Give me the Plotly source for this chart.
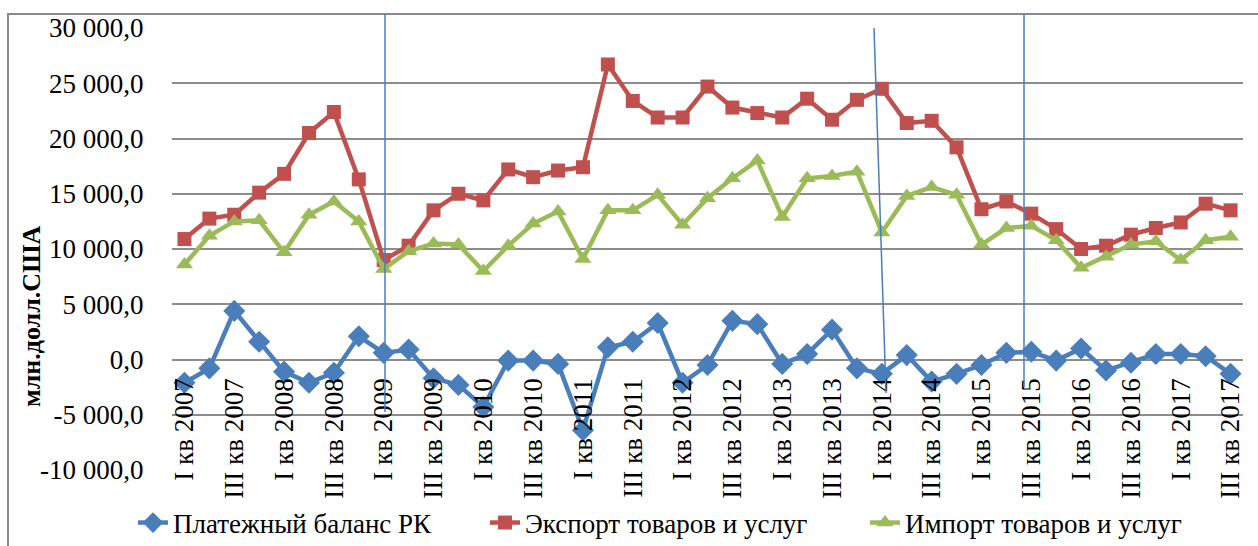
import plotly.graph_objects as go

# ---- data ----
roman = ["I", "II", "III", "IV"]
quarters = [f"{r} кв {y}" for y in range(2007, 2018) for r in roman][:43]

balance = [-2100, -800, 4400, 1600, -1100, -2100, -1200, 2100, 600,
           900, -1700, -2300, -4300, -100, -100, -400, -6400,
           1100, 1600, 3300, -2100, -500, 3500, 3200, -400, 500,
           2700, -800, -1300, 400, -2000, -1300, -500, 600, 700,
           -100, 1000, -1000, -300, 500, 500, 300, -1300]

export = [10900, 12750, 13100, 15100, 16800, 20500, 22400, 16300, 9000,
          10300, 13500, 15000, 14400, 17200, 16500, 17100, 17400,
          26700, 23400, 21900, 21900, 24700, 22800, 22300, 21900, 23600,
          21700, 23500, 24500, 21400, 21600, 19200, 13600, 14300, 13200,
          11800, 10000, 10300, 11300, 11900, 12400, 14100, 13500]

imports = [8600, 11200, 12500, 12600, 9700, 13100, 14300, 12500, 8200,
           9800, 10500, 10400, 8000, 10300, 12300, 13400, 9100,
           13500, 13500, 14900, 12200, 14600, 16400, 18000, 12900, 16400,
           16600, 17000, 11500, 14800, 15600, 14900, 10400, 11900, 12100,
           10800, 8300, 9300, 10400, 10700, 9000, 10800, 11100]

x_ticklabels = ["I кв 2007", "III кв 2007", "I кв 2008", "III кв 2008",
                "I кв 2009", "III кв 2009", "I кв 2010", "III кв 2010",
                "I кв 2011", "III кв 2011", "I кв 2012", "III кв 2012",
                "I кв 2013", "III кв 2013", "I кв 2014", "III кв 2014",
                "I кв 2015", "III кв 2015", "I кв 2016", "III кв 2016",
                "I кв 2017", "III кв 2017"]

y_tickvals = [-10000, -5000, 0, 5000, 10000, 15000, 20000, 25000, 30000]
y_ticktext = ["-10 000,0", "-5 000,0", "0,0", "5 000,0", "10 000,0",
              "15 000,0", "20 000,0", "25 000,0", "30 000,0"]

series_names = ["Платежный баланс РК", "Экспорт товаров и услуг", "Импорт товаров и услуг"]
colors = ["#4A7EBB", "#C0504D", "#9BBB59"]

FONT = "Liberation Serif, Times New Roman, serif"
FS = 27
W, H = 1258, 546
L, R, T, B = 172, 1243, 28, 470  # plot area in px

def px_x(x):
    return (x - L) / (R - L)

def px_y(y):
    return (B - y) / (B - T)

fig = go.Figure()
fig.add_trace(go.Scatter(x=quarters, y=balance, name=series_names[0], mode="lines+markers",
                         line=dict(color=colors[0], width=4.5),
                         marker=dict(symbol="diamond", size=17, color=colors[0]),
                         legend="legend"))
fig.add_trace(go.Scatter(x=quarters, y=export, name=series_names[1], mode="lines+markers",
                         line=dict(color=colors[1], width=4.5),
                         marker=dict(symbol="square", size=14, color=colors[1]),
                         legend="legend2"))
fig.add_trace(go.Scatter(x=quarters, y=imports, name=series_names[2], mode="lines+markers",
                         line=dict(color=colors[2], width=4.5),
                         marker=dict(symbol="triangle-up", size=15, color=colors[2]),
                         legend="legend3"))

legend_common = dict(orientation="h", yanchor="middle", xanchor="left",
                     font=dict(family=FONT, size=FS, color="#000"),
                     bgcolor="rgba(0,0,0,0)", itemwidth=30)

shapes = [
    # outer chart border
    dict(type="rect", xref="paper", yref="paper",
         x0=px_x(8), x1=px_x(1262), y0=px_y(14), y1=px_y(560),
         line=dict(color="#8a8a8a", width=2), fillcolor="rgba(0,0,0,0)", layer="below"),
    # drawn vertical lines
    dict(type="line", xref="paper", yref="paper", x0=px_x(385), x1=px_x(385),
         y0=px_y(14), y1=px_y(412), line=dict(color="#4A7EBB", width=1.5)),
    dict(type="line", xref="paper", yref="paper", x0=px_x(874), x1=px_x(886),
         y0=px_y(28), y1=px_y(393), line=dict(color="#4A7EBB", width=1.5)),
    dict(type="line", xref="paper", yref="paper", x0=px_x(1024), x1=px_x(1024),
         y0=px_y(14), y1=px_y(387), line=dict(color="#4A7EBB", width=1.5)),
]

fig.update_layout(
    width=W, height=H,
    margin=dict(l=L, r=W - R, t=T, b=H - B, pad=0, autoexpand=False),
    paper_bgcolor="white", plot_bgcolor="white",
    font=dict(family=FONT, size=FS, color="#000"),
    showlegend=True,
    legend=dict(x=px_x(133), y=px_y(523), **legend_common),
    legend2=dict(x=px_x(485), y=px_y(523), **legend_common),
    legend3=dict(x=px_x(865), y=px_y(523), **legend_common),
    xaxis=dict(type="category", anchor="free", position=0.25, range=[-0.5, len(quarters) - 0.5],
               tickmode="array", tickvals=x_ticklabels, ticktext=x_ticklabels,
               tickangle=-90, ticks="outside", ticklen=7, tickcolor="rgba(0,0,0,0)",
               showgrid=False, showline=False, zeroline=False,
               tickfont=dict(family=FONT, size=FS, color="#000")),
    yaxis=dict(range=[-10000, 30000], tickmode="array", tickvals=y_tickvals, ticktext=y_ticktext,
               showgrid=True, gridcolor="#8c8c8c", gridwidth=1.5, zeroline=False,
               showline=False, ticks="outside", ticklen=22, tickcolor="rgba(0,0,0,0)",
               tickfont=dict(family=FONT, size=FS, color="#000")),
    shapes=shapes,
    annotations=[dict(text="<b>млн.долл.США</b>", xref="paper", yref="paper",
                      x=px_x(31), y=px_y(316), showarrow=False, textangle=-90,
                      font=dict(family=FONT, size=26, color="#000"),
                      xanchor="center", yanchor="middle")],
)

fig.write_html("out.html", config={"displayModeBar": False},
               post_script="document.body.style.margin='0';")
